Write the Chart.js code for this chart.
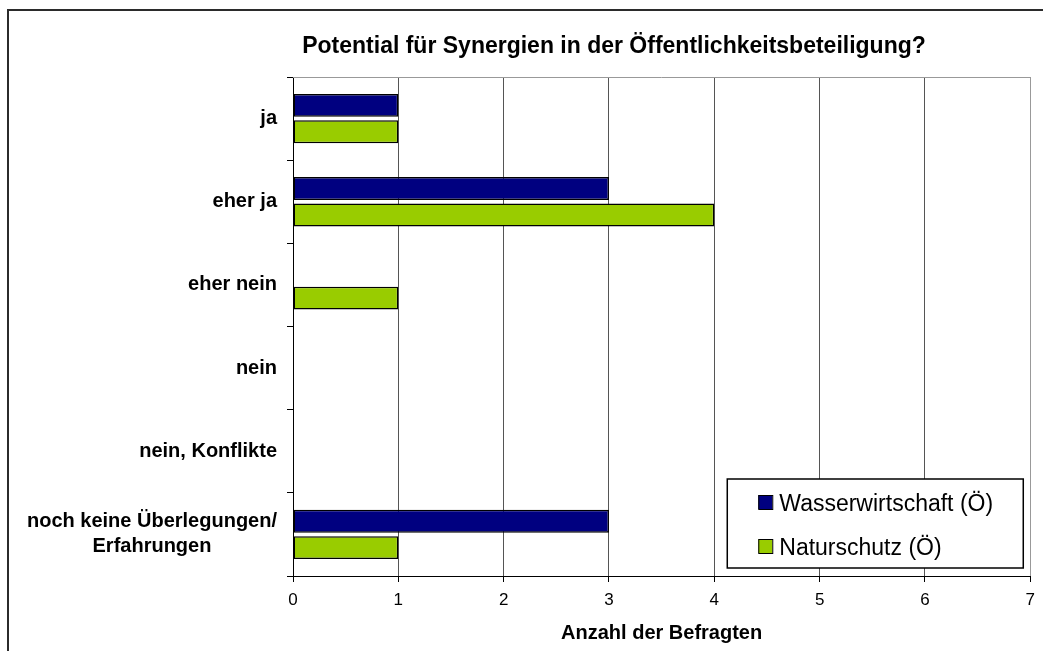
<!DOCTYPE html>
<html lang="de">
<head>
<meta charset="utf-8">
<title>Potential für Synergien in der Öffentlichkeitsbeteiligung?</title>
<script src="https://cdn.jsdelivr.net/npm/chart.js@4.4.1/dist/chart.umd.min.js"></script>
<style>
  html, body { margin: 0; padding: 0; background: #fff; }
  canvas { display: block; }
</style>
</head>
<body>
<canvas id="synergieChart" width="1043" height="651"></canvas>
<script>
/* Daten aus der Befragung (Anzahl der Befragten je Antwort) */
const chartTitle = 'Potential für Synergien in der Öffentlichkeitsbeteiligung?';
const axisTitle = 'Anzahl der Befragten';
const categories = [
  'ja',
  'eher ja',
  'eher nein',
  'nein',
  'nein, Konflikte',
  ['noch keine Überlegungen/', 'Erfahrungen'],
];
const seriesNames = ['Wasserwirtschaft (Ö)', 'Naturschutz (Ö)'];
const wasserwirtschaft = [1, 3, 0, 0, 0, 3];
const naturschutz = [1, 4, 1, 0, 0, 1];
const xMin = 0;
const xMax = 7;
const xStep = 1;

const FONT = '"Liberation Sans", Arial, Helvetica, sans-serif';
const COLORS = { blue: '#000080', green: '#99cc00', grid: '#555555', frame: '#999999' };

/** Rahmen, Titel, Kategorie-Beschriftungen und Legende im Excel-Stil */
const excelLook = {
  id: 'excelLook',
  beforeDraw(chart) {
    const ctx = chart.ctx;
    ctx.save();
    ctx.fillStyle = '#fff';
    ctx.fillRect(0, 0, chart.width, chart.height);
    // äußerer Rahmen (läuft rechts und unten aus dem Bild)
    ctx.strokeStyle = '#2b2b2b';
    ctx.lineWidth = 2;
    ctx.beginPath();
    ctx.moveTo(8, chart.height);
    ctx.lineTo(8, 10);
    ctx.lineTo(chart.width, 10);
    ctx.stroke();
    ctx.restore();
  },
  afterDraw(chart) {
    const ctx = chart.ctx;
    const area = chart.chartArea;
    const yScale = chart.scales.y;
    ctx.save();

    // Rahmen oben
    ctx.strokeStyle = COLORS.frame;
    ctx.lineWidth = 1;
    ctx.beginPath();
    ctx.moveTo(area.left, area.top + 0.5);
    ctx.lineTo(area.right, area.top + 0.5);
    ctx.stroke();

    // Titel
    ctx.fillStyle = '#000';
    ctx.font = 'bold 23px ' + FONT;
    ctx.textAlign = 'center';
    ctx.textBaseline = 'alphabetic';
    ctx.fillText(chartTitle, 614, 53);

    // Kategorien: Block rechtsbündig, Zeilen zentriert
    ctx.font = 'bold 20px ' + FONT;
    ctx.textBaseline = 'middle';
    const right = area.left - 16;
    const lineH = 25;
    chart.data.labels.forEach((label, i) => {
      const lines = Array.isArray(label) ? label : [label];
      const widest = Math.max(...lines.map(l => ctx.measureText(l).width));
      const cx = right - widest / 2;
      const cy = yScale.getPixelForTick(i);
      lines.forEach((l, j) => {
        ctx.fillText(l, cx, cy + (j - (lines.length - 1) / 2) * lineH);
      });
    });

    // Legende
    const box = { x: area.right - 303, y: area.bottom - 97, w: 296, h: 89 };
    ctx.fillStyle = '#fff';
    ctx.fillRect(box.x, box.y, box.w, box.h);
    ctx.strokeStyle = '#000';
    ctx.lineWidth = 1.5;
    ctx.strokeRect(box.x, box.y, box.w, box.h);
    ctx.font = '23px ' + FONT;
    ctx.textAlign = 'left';
    ctx.textBaseline = 'alphabetic';
    chart.data.datasets.forEach((ds, i) => {
      const rowY = box.y + 24 + i * 44;
      ctx.fillStyle = ds.backgroundColor;
      ctx.fillRect(box.x + 31, rowY - 8, 14, 14);
      ctx.strokeStyle = '#000';
      ctx.lineWidth = 1;
      ctx.strokeRect(box.x + 31.5, rowY - 7.5, 14, 14);
      ctx.fillStyle = '#000';
      ctx.fillText(ds.label, box.x + 52, rowY + 8);
    });

    ctx.restore();
  },
};

new Chart(document.getElementById('synergieChart'), {
  type: 'bar',
  data: {
    labels: categories,
    datasets: [
      {
        label: seriesNames[0],
        data: wasserwirtschaft,
        backgroundColor: COLORS.blue,
      },
      {
        label: seriesNames[1],
        data: naturschutz,
        backgroundColor: COLORS.green,
      },
    ],
  },
  options: {
    responsive: false,
    animation: false,
    indexAxis: 'y',
    layout: { padding: { top: 77, right: 12, left: 0, bottom: 0 } },
    datasets: {
      bar: {
        borderColor: '#000',
        borderWidth: 1.5,
        borderSkipped: false,
        barPercentage: 0.868,
        categoryPercentage: 0.636,
      },
    },
    plugins: {
      legend: { display: false },
      title: { display: false },
      tooltip: { enabled: false },
    },
    scales: {
      x: {
        type: 'linear',
        min: xMin,
        max: xMax,
        ticks: {
          stepSize: xStep,
          color: '#000',
          padding: 8,
          font: { family: FONT, size: 17 },
        },
        grid: {
          color: ctx => (ctx.index === xMax ? COLORS.frame : COLORS.grid),
          tickColor: '#000',
          tickLength: 6,
        },
        border: { color: '#000', width: 1 },
        title: {
          display: true,
          text: axisTitle,
          color: '#000',
          font: { family: FONT, size: 20, weight: 'bold' },
          padding: { top: 0, bottom: 6 },
        },
        afterFit(scale) { scale.height = 75; },
      },
      y: {
        type: 'category',
        ticks: { display: false },
        grid: {
          offset: true,
          drawOnChartArea: false,
          tickColor: '#000',
          tickLength: 6,
        },
        border: { color: '#000', width: 1 },
        afterFit(scale) { scale.height = scale.height; scale.width = 293; },
      },
    },
  },
  plugins: [excelLook],
});
</script>
</body>
</html>
